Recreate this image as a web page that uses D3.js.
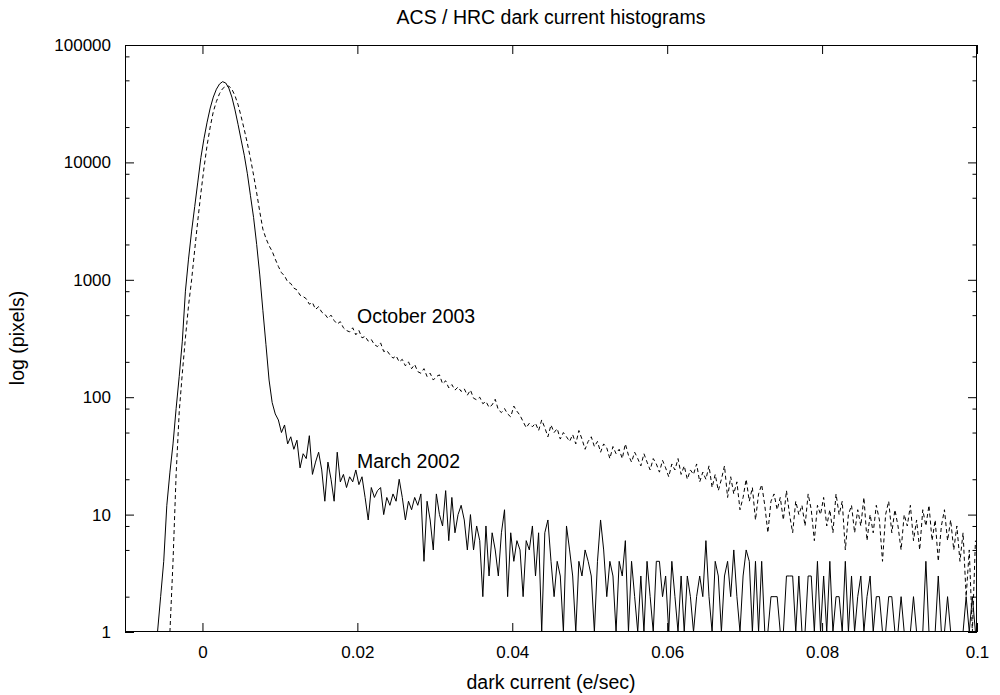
<!DOCTYPE html>
<html><head><meta charset="utf-8">
<script src="https://cdn.jsdelivr.net/npm/d3@7"></script>
<style>
body{margin:0;background:#fff}
text{font-family:"Liberation Sans",Arial,Helvetica,sans-serif;fill:#000}
</style>
</head><body>
<svg id="chart" width="1000" height="695"></svg>
<script>
// histogram bins: centre of first bin and bin width (e/sec)
const binStart = -0.0058;
const binWidth = 0.0004;

const march2002 = [
1,2,4,12,23,40,80,150,300,800,
1500,2600,4200,6800,11000,16000,22000,29000,36000,42000,
46500,48700,47500,43000,36000,28000,21000,15500,11500,8000,
5200,3400,2000,1100,550,280,140,90,72,64,
50,58,40,46,36,43,25,33,30,47,
22,28,34,24,13,28,20,13,34,19,
22,17,21,19,24,18,21,14,9,17,
14,16,17,10,14,12,15,13,20,14,
9,13,11,14,12,15,4,13,9,5,
15,10,8,16,6,14,7,10,12,9,
5,10,5,8,6,2,8,3,7,5,
3,7,11,2,7,4,6,5,2,6,
5,8,3,7,1,7,9,4,2,4,
3,1,8,5,3,1,4,3,5,4,
3,1,4,9,5,2,4,3,1,4,
3,6,1,4,2,1,3,1,4,2,
1,4,4,2,3,1,4,2,1,3,
1,3,2,1,2,3,2,6,2,1,
4,3,1,3,4,2,5,2,1,3,
5,4,1,4,1,4,1,1,2,2,
2,1,1,3,3,3,1,3,1,1,
3,3,1,4,1,3,1,4,1,2,
2,1,4,1,3,1,2,3,1,2,
3,1,2,2,1,1,2,2,1,1,
2,1,1,1,2,1,1,1,4,1,
1,1,3,1,1,2,1,1,1,1,
1,2,1,2,1
];

const october2003 = [
null,null,null,null,1,4,22,75,160,320,
600,1000,1800,3200,5500,9000,14000,20000,27000,33000,
38500,42500,44500,44700,42000,37000,31000,24500,19000,14500,
10800,7800,5500,3800,2700,2250,1950,1750,1500,1300,
1150,1080,960,930,850,820,740,720,690,620,
640,560,590,530,510,470,500,450,420,440,
390,370,360,390,340,370,320,330,300,310,
280,270,290,245,250,230,215,225,200,210,
185,200,175,190,165,160,175,150,160,140,
150,155,130,138,120,128,115,122,112,118,
104,115,98,95,100,88,92,82,86,96,
78,74,80,72,68,84,76,70,62,55,
60,56,60,52,64,55,46,58,50,54,
44,50,46,42,48,40,52,44,36,42,
46,38,42,34,40,37,30,38,33,36,
30,40,32,28,34,30,26,33,28,24,
30,27,23,29,25,21,27,24,30,22,
26,20,24,22,27,19,23,20,26,17,
22,16,20,26,14,21,15,19,11,14,
20,13,17,9,15,18,12,7,13,15,
11,14,9,16,10,7,13,10,12,8,
15,11,6,12,10,14,8,11,7,15,
10,13,5,10,12,7,11,8,14,6,
10,7,12,9,4,10,13,7,11,8,
5,10,8,12,6,9,5,11,8,12,
6,9,4,8,11,6,9,5,8,4,
7,2,5,1,6
];

const xTicks = [0, 0.02, 0.04, 0.06, 0.08, 0.1];
const xTickLabels = ["0", "0.02", "0.04", "0.06", "0.08", "0.1"];
const yTicks = [1, 10, 100, 1000, 10000, 100000];
const yTickLabels = ["1", "10", "100", "1000", "10000", "100000"];
const yMinorTicks = [2,5,8,20,50,80,200,500,800,2000,5000,8000,20000,50000,80000];

const titleText = "ACS / HRC dark current histograms";
const xLabelText = "dark current (e/sec)";
const yLabelText = "log (pixels)";
const seriesLabels = ["October 2003", "March 2002"];

const L = 125, R = 977, T = 45, B = 632;
const FS = 19.5;   // titles and labels
const TFS = 17;    // tick labels

const svg = d3.select("#chart");
const x = d3.scaleLinear().domain([-0.01, 0.1]).range([L, R]);
const y = d3.scaleLog().domain([1, 100000]).range([B, T]);

const binX = i => binStart + i * binWidth;

svg.append("defs").append("clipPath").attr("id", "clip")
  .append("rect").attr("x", L).attr("y", T).attr("width", R - L).attr("height", B - T);

const fmtX = (d) => xTickLabels[xTicks.indexOf(d)];
const fmtY = (d) => yTickLabels[yTicks.indexOf(d)];

function styleAxis(g) {
  g.select(".domain").remove();
  g.selectAll(".tick line").attr("stroke", "#000").attr("stroke-width", 1);
  g.selectAll("text").attr("font-size", TFS).attr("font-family", '"Liberation Sans",Arial,sans-serif').attr("fill", "#000");
}

svg.append("g").attr("transform", `translate(0,${B})`)
  .call(d3.axisBottom(x).tickValues(xTicks).tickFormat(fmtX).tickSizeInner(-9).tickSizeOuter(0).tickPadding(14))
  .call(styleAxis);
svg.append("g").attr("transform", `translate(0,${T})`)
  .call(d3.axisTop(x).tickValues(xTicks).tickFormat("").tickSizeInner(-9).tickSizeOuter(0))
  .call(styleAxis);
svg.append("g").attr("transform", `translate(${L},0)`)
  .call(d3.axisLeft(y).tickValues(yTicks).tickFormat(fmtY).tickSizeInner(-9).tickSizeOuter(0).tickPadding(14))
  .call(styleAxis);
svg.append("g").attr("transform", `translate(${L},0)`)
  .call(d3.axisLeft(y).tickValues(yMinorTicks).tickFormat("").tickSizeInner(-4.5).tickSizeOuter(0))
  .call(styleAxis);
svg.append("g").attr("transform", `translate(${R},0)`)
  .call(d3.axisRight(y).tickValues(yTicks).tickFormat("").tickSizeInner(-9).tickSizeOuter(0))
  .call(styleAxis);
svg.append("g").attr("transform", `translate(${R},0)`)
  .call(d3.axisRight(y).tickValues(yMinorTicks).tickFormat("").tickSizeInner(-4.5).tickSizeOuter(0))
  .call(styleAxis);

const line = d3.line()
  .defined(d => d != null)
  .x((d, i) => x(binX(i)))
  .y(d => y(d));

const plot = svg.append("g").attr("clip-path", "url(#clip)");
plot.append("path").datum(october2003)
  .attr("d", line).attr("fill", "none").attr("stroke", "#000")
  .attr("stroke-width", 1).attr("stroke-dasharray", "4,3");
plot.append("path").datum(march2002)
  .attr("d", line).attr("fill", "none").attr("stroke", "#000")
  .attr("stroke-width", 1);

svg.append("rect").attr("x", L + 0.5).attr("y", T + 0.5)
  .attr("width", R - L - 1).attr("height", B - T - 1)
  .attr("fill", "none").attr("stroke", "#000").attr("stroke-width", 1);

svg.append("text").attr("x", 551).attr("y", 24).attr("text-anchor", "middle")
  .attr("font-size", FS).text(titleText);
svg.append("text").attr("x", 551).attr("y", 689).attr("text-anchor", "middle")
  .attr("font-size", FS).text(xLabelText);
svg.append("text").attr("transform", "translate(24,338) rotate(-90)").attr("text-anchor", "middle")
  .attr("font-size", FS).text(yLabelText);
svg.append("text").attr("x", 357).attr("y", 323).attr("font-size", FS).text(seriesLabels[0]);
svg.append("text").attr("x", 357).attr("y", 468).attr("font-size", FS).text(seriesLabels[1]);
</script>
</body></html>
